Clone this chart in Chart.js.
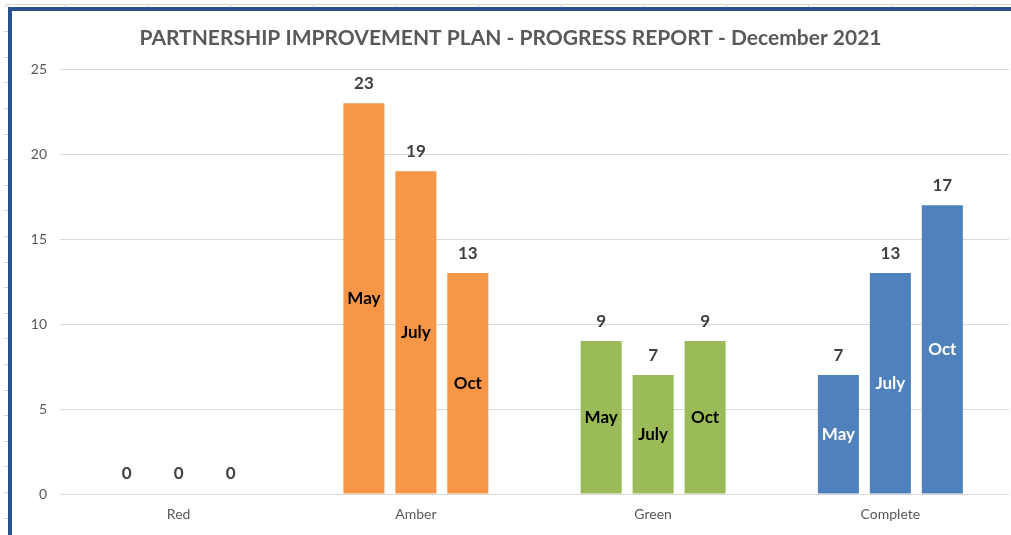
<!DOCTYPE html>
<html>
<head>
<meta charset="utf-8">
<script src="https://cdn.jsdelivr.net/npm/chart.js@4.4.1/dist/chart.umd.min.js"></script>
<style>
  html, body { margin: 0; padding: 0; background: #ffffff; overflow: hidden; }
  body { width: 1011px; height: 535px; position: relative; }
  .sheet-h { position: absolute; background: #d6d6d6; height: 1px; }
  .sheet-v { position: absolute; background: #d6d6d6; width: 1px; }
  #frame {
    position: absolute; left: 8px; top: 7px; width: 1010px; height: 540px;
    border-left: 4px solid #2B5290; border-top: 4px solid #2B5290;
    background: #ffffff;
  }
  #wrap { position: absolute; left: 12px; top: 11px; width: 999px; height: 524px; }
</style>
</head>
<body>
<div id="frame"></div>
<div id="wrap"><canvas id="c" width="999" height="524"></canvas></div>
<script>
// ---- data ----
const categories = ['Red', 'Amber', 'Green', 'Complete'];
const seriesNames = ['May', 'July', 'Oct'];
const mayValues = [0, 23, 9, 7];
const julyValues = [0, 19, 7, 13];
const octValues = [0, 13, 9, 17];
const yMax = 25;
const yStep = 5;
const titleText = 'PARTNERSHIP IMPROVEMENT PLAN - PROGRESS REPORT - December 2021';

// ---- styles ----
const categoryColors = ['#C0504D', '#F79646', '#9BBB59', '#4F81BD'];
const insideLabelColors = ['#000000', '#000000', '#000000', '#FFFFFF'];
const FONT = 'Lato, "Open Sans", sans-serif';

// spreadsheet gridlines behind the chart frame (decoration)
(function () {
  const b = document.body;
  const h = document.createElement('div');
  h.className = 'sheet-h'; h.style.left = '5px'; h.style.top = '4px'; h.style.width = '1006px';
  b.insertBefore(h, b.firstChild);
  for (let x = 65; x < 1011; x += 82.6) {
    const v = document.createElement('div');
    v.className = 'sheet-v'; v.style.left = Math.round(x) + 'px'; v.style.top = '4px'; v.style.height = '4px';
    b.insertBefore(v, b.firstChild);
  }
  for (let y = 5.6; y < 535; y += 25.6) {
    const t = document.createElement('div');
    t.className = 'sheet-h'; t.style.left = '4px'; t.style.top = Math.round(y) + 'px'; t.style.width = '5px';
    b.insertBefore(t, b.firstChild);
  }
})();

const labelPlugin = {
  id: 'barLabels',
  afterDatasetsDraw(chart) {
    const ctx = chart.ctx;
    ctx.save();
    chart.data.datasets.forEach((ds, di) => {
      const meta = chart.getDatasetMeta(di);
      meta.data.forEach((bar, i) => {
        const v = ds.data[i];
        // value above bar
        ctx.font = 'bold 17px ' + FONT;
        ctx.fillStyle = '#404040';
        ctx.textAlign = 'center';
        ctx.textBaseline = 'middle';
        ctx.fillText(String(v), bar.x, bar.y - 20);
        // series name inside bar
        if (v > 0) {
          const c = bar.getCenterPoint();
          ctx.font = 'bold 17px ' + FONT;
          ctx.fillStyle = insideLabelColors[i];
          ctx.fillText(ds.label, c.x, c.y);
        }
      });
    });
    ctx.restore();
  }
};

const seriesValues = [mayValues, julyValues, octValues];

new Chart(document.getElementById('c'), {
  type: 'bar',
  data: {
    labels: categories,
    datasets: seriesNames.map((name, k) => ({
      label: name,
      data: seriesValues[k],
      backgroundColor: categoryColors,
      borderWidth: 0,
      categoryPercentage: 0.657,
      barPercentage: 0.79
    }))
  },
  options: {
    responsive: false,
    animation: false,
    layout: { padding: { left: 0, right: 2, top: 0, bottom: 0 } },
    plugins: {
      legend: { display: false },
      tooltip: { enabled: false },
      title: {
        display: true,
        text: titleText,
        color: '#595959',
        font: { family: FONT, size: 21, weight: 'bold' },
        padding: { top: 15, bottom: 18 }
      }
    },
    scales: {
      x: {
        grid: { display: false, drawTicks: false },
        border: { display: false },
        ticks: { color: '#595959', font: { family: FONT, size: 14 }, padding: 12 },
        afterFit(s) { s.height = 41; }
      },
      y: {
        min: 0, max: yMax,
        grid: { color: '#d9d9d9', drawTicks: false, lineWidth: 1 },
        border: { display: false },
        ticks: { stepSize: yStep, color: '#595959', font: { family: FONT, size: 14 }, padding: 13 },
        afterFit(s) { s.width = 48; }
      }
    }
  },
  plugins: [labelPlugin]
});
</script>
</body>
</html>
